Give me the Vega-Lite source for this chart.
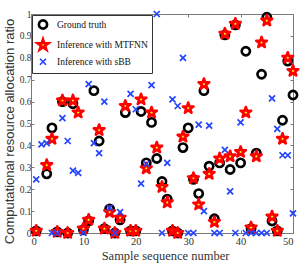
{
  "$schema": "https://vega.github.io/schema/vega-lite/v6.json",
  "width": 262,
  "height": 219,
  "autosize": {"type": "none"},
  "padding": {"left": 31, "top": 14, "right": 12, "bottom": 37},
  "config": {
    "view": {"stroke": null},
    "font": "Liberation Sans Narrow",
    "axis": {"domainColor": "#7a7a7a", "tickColor": "#7a7a7a", "labelColor": "#333333", "titleColor": "#333333", "grid": false, "labelFont": "Liberation Sans Narrow", "titleFont": "Liberation Sans Narrow", "titleFontWeight": "normal"}
  },
  "data": {
    "values": [
      {"n": 1, "v": 0.01, "s": "Ground truth"},
      {"n": 2, "v": 0.81, "s": "Ground truth"},
      {"n": 3, "v": 0.27, "s": "Ground truth"},
      {"n": 4, "v": 0.48, "s": "Ground truth"},
      {"n": 5, "v": 0.005, "s": "Ground truth"},
      {"n": 6, "v": 0.6, "s": "Ground truth"},
      {"n": 7, "v": 0.0, "s": "Ground truth"},
      {"n": 8, "v": 0.59, "s": "Ground truth"},
      {"n": 9, "v": 0.755, "s": "Ground truth"},
      {"n": 10, "v": 0.015, "s": "Ground truth"},
      {"n": 11, "v": 0.055, "s": "Ground truth"},
      {"n": 12, "v": 0.65, "s": "Ground truth"},
      {"n": 13, "v": 0.42, "s": "Ground truth"},
      {"n": 14, "v": 0.02, "s": "Ground truth"},
      {"n": 15, "v": 0.11, "s": "Ground truth"},
      {"n": 16, "v": 0.0, "s": "Ground truth"},
      {"n": 17, "v": 0.06, "s": "Ground truth"},
      {"n": 18, "v": 0.55, "s": "Ground truth"},
      {"n": 19, "v": 0.01, "s": "Ground truth"},
      {"n": 20, "v": 0.01, "s": "Ground truth"},
      {"n": 21, "v": 0.555, "s": "Ground truth"},
      {"n": 22, "v": 0.32, "s": "Ground truth"},
      {"n": 23, "v": 0.505, "s": "Ground truth"},
      {"n": 24, "v": 0.34, "s": "Ground truth"},
      {"n": 25, "v": 0.235, "s": "Ground truth"},
      {"n": 26, "v": 0.155, "s": "Ground truth"},
      {"n": 27, "v": 0.01, "s": "Ground truth"},
      {"n": 28, "v": 0.0, "s": "Ground truth"},
      {"n": 29, "v": 0.39, "s": "Ground truth"},
      {"n": 30, "v": 0.48, "s": "Ground truth"},
      {"n": 31, "v": 0.245, "s": "Ground truth"},
      {"n": 32, "v": 0.18, "s": "Ground truth"},
      {"n": 33, "v": 0.65, "s": "Ground truth"},
      {"n": 34, "v": 0.305, "s": "Ground truth"},
      {"n": 35, "v": 0.065, "s": "Ground truth"},
      {"n": 36, "v": 0.32, "s": "Ground truth"},
      {"n": 37, "v": 0.905, "s": "Ground truth"},
      {"n": 38, "v": 0.29, "s": "Ground truth"},
      {"n": 39, "v": 0.95, "s": "Ground truth"},
      {"n": 40, "v": 0.32, "s": "Ground truth"},
      {"n": 41, "v": 0.83, "s": "Ground truth"},
      {"n": 42, "v": 0.02, "s": "Ground truth"},
      {"n": 43, "v": 0.365, "s": "Ground truth"},
      {"n": 44, "v": 0.725, "s": "Ground truth"},
      {"n": 45, "v": 0.985, "s": "Ground truth"},
      {"n": 46, "v": 0.055, "s": "Ground truth"},
      {"n": 47, "v": 0.01, "s": "Ground truth"},
      {"n": 48, "v": 0.515, "s": "Ground truth"},
      {"n": 49, "v": 0.785, "s": "Ground truth"},
      {"n": 50, "v": 0.63, "s": "Ground truth"},
      {"n": 1, "v": 0.01, "s": "Inference with MTFNN"},
      {"n": 3, "v": 0.31, "s": "Inference with MTFNN"},
      {"n": 4, "v": 0.43, "s": "Inference with MTFNN"},
      {"n": 5, "v": 0.005, "s": "Inference with MTFNN"},
      {"n": 6, "v": 0.605, "s": "Inference with MTFNN"},
      {"n": 7, "v": 0.0, "s": "Inference with MTFNN"},
      {"n": 8, "v": 0.605, "s": "Inference with MTFNN"},
      {"n": 9, "v": 0.55, "s": "Inference with MTFNN"},
      {"n": 10, "v": 0.02, "s": "Inference with MTFNN"},
      {"n": 11, "v": 0.06, "s": "Inference with MTFNN"},
      {"n": 12, "v": 0.8, "s": "Inference with MTFNN"},
      {"n": 13, "v": 0.47, "s": "Inference with MTFNN"},
      {"n": 14, "v": 0.02, "s": "Inference with MTFNN"},
      {"n": 15, "v": 0.095, "s": "Inference with MTFNN"},
      {"n": 16, "v": 0.0, "s": "Inference with MTFNN"},
      {"n": 17, "v": 0.07, "s": "Inference with MTFNN"},
      {"n": 18, "v": 0.58, "s": "Inference with MTFNN"},
      {"n": 19, "v": 0.01, "s": "Inference with MTFNN"},
      {"n": 20, "v": 0.01, "s": "Inference with MTFNN"},
      {"n": 21, "v": 0.61, "s": "Inference with MTFNN"},
      {"n": 22, "v": 0.295, "s": "Inference with MTFNN"},
      {"n": 23, "v": 0.55, "s": "Inference with MTFNN"},
      {"n": 24, "v": 0.39, "s": "Inference with MTFNN"},
      {"n": 25, "v": 0.21, "s": "Inference with MTFNN"},
      {"n": 26, "v": 0.14, "s": "Inference with MTFNN"},
      {"n": 27, "v": 0.01, "s": "Inference with MTFNN"},
      {"n": 28, "v": 0.0, "s": "Inference with MTFNN"},
      {"n": 29, "v": 0.44, "s": "Inference with MTFNN"},
      {"n": 30, "v": 0.57, "s": "Inference with MTFNN"},
      {"n": 31, "v": 0.25, "s": "Inference with MTFNN"},
      {"n": 32, "v": 0.13, "s": "Inference with MTFNN"},
      {"n": 33, "v": 0.68, "s": "Inference with MTFNN"},
      {"n": 34, "v": 0.27, "s": "Inference with MTFNN"},
      {"n": 35, "v": 0.05, "s": "Inference with MTFNN"},
      {"n": 36, "v": 0.34, "s": "Inference with MTFNN"},
      {"n": 37, "v": 0.91, "s": "Inference with MTFNN"},
      {"n": 38, "v": 0.35, "s": "Inference with MTFNN"},
      {"n": 39, "v": 0.955, "s": "Inference with MTFNN"},
      {"n": 40, "v": 0.37, "s": "Inference with MTFNN"},
      {"n": 41, "v": 0.55, "s": "Inference with MTFNN"},
      {"n": 42, "v": 0.025, "s": "Inference with MTFNN"},
      {"n": 43, "v": 0.35, "s": "Inference with MTFNN"},
      {"n": 44, "v": 0.87, "s": "Inference with MTFNN"},
      {"n": 45, "v": 0.97, "s": "Inference with MTFNN"},
      {"n": 46, "v": 0.075, "s": "Inference with MTFNN"},
      {"n": 47, "v": 0.01, "s": "Inference with MTFNN"},
      {"n": 48, "v": 0.43, "s": "Inference with MTFNN"},
      {"n": 49, "v": 0.8, "s": "Inference with MTFNN"},
      {"n": 50, "v": 0.74, "s": "Inference with MTFNN"},
      {"n": 1, "v": 0.245, "s": "Inference with sBB"},
      {"n": 2, "v": 0.405, "s": "Inference with sBB"},
      {"n": 3, "v": 0.41, "s": "Inference with sBB"},
      {"n": 4, "v": 0.0, "s": "Inference with sBB"},
      {"n": 5, "v": 0.0, "s": "Inference with sBB"},
      {"n": 6, "v": 0.525, "s": "Inference with sBB"},
      {"n": 7, "v": 0.42, "s": "Inference with sBB"},
      {"n": 8, "v": 0.285, "s": "Inference with sBB"},
      {"n": 9, "v": 0.275, "s": "Inference with sBB"},
      {"n": 10, "v": 0.0, "s": "Inference with sBB"},
      {"n": 11, "v": 0.68, "s": "Inference with sBB"},
      {"n": 12, "v": 0.41, "s": "Inference with sBB"},
      {"n": 13, "v": 0.365, "s": "Inference with sBB"},
      {"n": 14, "v": 0.6, "s": "Inference with sBB"},
      {"n": 15, "v": 0.115, "s": "Inference with sBB"},
      {"n": 16, "v": 0.0, "s": "Inference with sBB"},
      {"n": 17, "v": 0.095, "s": "Inference with sBB"},
      {"n": 19, "v": 0.635, "s": "Inference with sBB"},
      {"n": 20, "v": 0.565, "s": "Inference with sBB"},
      {"n": 21, "v": 0.225, "s": "Inference with sBB"},
      {"n": 22, "v": 0.315, "s": "Inference with sBB"},
      {"n": 23, "v": 0.675, "s": "Inference with sBB"},
      {"n": 24, "v": 1.0, "s": "Inference with sBB"},
      {"n": 25, "v": 0.0, "s": "Inference with sBB"},
      {"n": 26, "v": 0.32, "s": "Inference with sBB"},
      {"n": 27, "v": 0.61, "s": "Inference with sBB"},
      {"n": 28, "v": 0.58, "s": "Inference with sBB"},
      {"n": 29, "v": 0.8, "s": "Inference with sBB"},
      {"n": 30, "v": 0.0, "s": "Inference with sBB"},
      {"n": 31, "v": 0.0, "s": "Inference with sBB"},
      {"n": 32, "v": 0.495, "s": "Inference with sBB"},
      {"n": 33, "v": 0.1, "s": "Inference with sBB"},
      {"n": 34, "v": 0.49, "s": "Inference with sBB"},
      {"n": 35, "v": 0.0, "s": "Inference with sBB"},
      {"n": 36, "v": 0.0, "s": "Inference with sBB"},
      {"n": 37, "v": 0.38, "s": "Inference with sBB"},
      {"n": 38, "v": 0.19, "s": "Inference with sBB"},
      {"n": 39, "v": 0.0, "s": "Inference with sBB"},
      {"n": 40, "v": 0.505, "s": "Inference with sBB"},
      {"n": 41, "v": 0.0, "s": "Inference with sBB"},
      {"n": 42, "v": 0.0, "s": "Inference with sBB"},
      {"n": 43, "v": 0.0, "s": "Inference with sBB"},
      {"n": 44, "v": 0.0, "s": "Inference with sBB"},
      {"n": 45, "v": 0.0, "s": "Inference with sBB"},
      {"n": 46, "v": 0.615, "s": "Inference with sBB"},
      {"n": 47, "v": 0.475, "s": "Inference with sBB"},
      {"n": 48, "v": 0.355, "s": "Inference with sBB"},
      {"n": 49, "v": 0.355, "s": "Inference with sBB"},
      {"n": 50, "v": 0.09, "s": "Inference with sBB"}
    ]
  },
  "layer": [
    {
      "mark": {"type": "point", "opacity": 1, "strokeJoin": "round"},
      "encoding": {
        "x": {"field": "n", "type": "quantitative", "scale": {"domain": [0, 50], "nice": false},
          "axis": {"orient": "bottom", "values": [0, 10, 20, 30, 40, 50], "tickSize": -3, "labelPadding": 6, "labelFontSize": 10.5, "title": "Sample sequence number", "titleFontSize": 12.5, "titlePadding": 3, "titleX": 134}},
        "y": {"field": "v", "type": "quantitative", "scale": {"domain": [0, 1], "nice": false},
          "axis": {"orient": "left", "values": [0, 0.1, 0.2, 0.3, 0.4, 0.5, 0.6, 0.7, 0.8, 0.9, 1], "format": "~g", "tickSize": -3, "labelPadding": 3, "labelFontSize": 9.5, "title": "Computational resource allocation ratio", "titleFont": "Liberation Sans", "titleFontSize": 13, "titlePadding": 3, "titleY": 117}},
        "shape": {"field": "s", "type": "nominal",
          "scale": {"domain": ["Ground truth", "Inference with MTFNN", "Inference with sBB"],
            "range": ["circle", "M0,-1L0.2245,-0.309L0.951,-0.309L0.363,0.118L0.588,0.809L0,0.382L-0.588,0.809L-0.363,0.118L-0.951,-0.309L-0.2245,-0.309Z", "M-1,-1L1,1M-1,1L1,-1"]},
          "legend": {"title": null, "orient": "top-left", "offset": 1, "fillColor": "white", "strokeColor": "#333333", "padding": 4, "labelFont": "Liberation Sans Narrow", "labelFontSize": 9.5, "labelColor": "#111111", "labelOffset": 7, "rowPadding": 0}},
        "stroke": {"field": "s", "type": "nominal",
          "scale": {"domain": ["Ground truth", "Inference with MTFNN", "Inference with sBB"], "range": ["#000000", "#ff0000", "#2244ff"]}},
        "fill": {"field": "s", "type": "nominal",
          "scale": {"domain": ["Ground truth", "Inference with MTFNN", "Inference with sBB"], "range": ["transparent", "#ffff00", "transparent"]}},
        "size": {"field": "s", "type": "nominal",
          "scale": {"type": "ordinal", "domain": ["Ground truth", "Inference with MTFNN", "Inference with sBB"], "range": [68, 125, 36]}},
        "strokeWidth": {"field": "s", "type": "nominal",
          "scale": {"type": "ordinal", "domain": ["Ground truth", "Inference with MTFNN", "Inference with sBB"], "range": [2.6, 2.6, 1.7]}}
      }
    },
    {
      "mark": {"type": "point", "opacity": 0},
      "encoding": {
        "x": {"field": "n", "type": "quantitative", "scale": {"domain": [0, 50], "nice": false},
          "axis": {"orient": "top", "values": [0, 10, 20, 30, 40, 50], "tickSize": -3, "labels": false, "title": null}},
        "y": {"field": "v", "type": "quantitative", "scale": {"domain": [0, 1], "nice": false},
          "axis": {"orient": "right", "values": [0, 0.1, 0.2, 0.3, 0.4, 0.5, 0.6, 0.7, 0.8, 0.9, 1], "tickSize": -3, "labels": false, "title": null}}
      }
    }
  ],
  "resolve": {"axis": {"x": "independent", "y": "independent"}}
}
